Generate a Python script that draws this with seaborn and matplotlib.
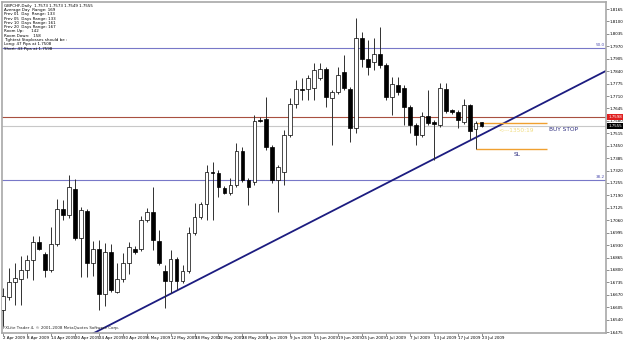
import matplotlib
matplotlib.use("Agg")
import matplotlib.pyplot as plt
import matplotlib.transforms as mtransforms
import numpy as np
import pandas as pd
import seaborn as sns

# GBPCHF daily candles, 2 Apr 2009 - 23 Jul 2009
opens = [1.6590, 1.6658, 1.6736, 1.6752, 1.6799, 1.6852, 1.6946, 1.6883, 1.6799, 1.6935,
         1.7118, 1.7087, 1.7223, 1.6967, 1.7108, 1.6836, 1.6909, 1.6674, 1.6893, 1.6684,
         1.6752, 1.6836, 1.6909, 1.6909, 1.7061, 1.7103, 1.6951, 1.6794, 1.6742, 1.6857,
         1.6742, 1.6794, 1.6993, 1.7076, 1.7145, 1.7312, 1.7307, 1.7228, 1.7202, 1.7244,
         1.7422, 1.7270, 1.7260, 1.7584, 1.7589, 1.7443, 1.7270, 1.7312, 1.7506, 1.7668,
         1.7746, 1.7746, 1.7752, 1.7804, 1.7851, 1.7699, 1.7731, 1.7835, 1.7746, 1.7542,
         1.8013, 1.7903, 1.7888, 1.7930, 1.7872, 1.7705, 1.7767, 1.7752, 1.7652, 1.7558,
         1.7506, 1.7605, 1.7574, 1.7558, 1.7746, 1.7636, 1.7626, 1.7574, 1.7663, 1.7537,
         1.7573]
highs = [1.6705, 1.6810, 1.6836, 1.6872, 1.6878, 1.6977, 1.6977, 1.6893, 1.7024, 1.7171,
         1.7166, 1.7296, 1.7275, 1.7129, 1.7118, 1.6951, 1.6956, 1.6940, 1.6935, 1.6836,
         1.6888, 1.6946, 1.6925, 1.7082, 1.7124, 1.7234, 1.7009, 1.6825, 1.6904, 1.6867,
         1.6825, 1.7024, 1.7150, 1.7155, 1.7349, 1.7364, 1.7323, 1.7239, 1.7281, 1.7464,
         1.7443, 1.7281, 1.7610, 1.7600, 1.7705, 1.7453, 1.7349, 1.7532, 1.7699, 1.7794,
         1.7804, 1.7820, 1.7882, 1.7882, 1.7862, 1.7741, 1.7862, 1.7924, 1.7757, 1.8118,
         1.8045, 1.8003, 1.8013, 1.8071, 1.7882, 1.7809, 1.7809, 1.7767, 1.7663, 1.7568,
         1.7626, 1.7741, 1.7584, 1.7778, 1.7778, 1.7642, 1.7636, 1.7694, 1.7668, 1.7579,
         1.7573]
lows = [1.6506, 1.6642, 1.6616, 1.6616, 1.6757, 1.6747, 1.6904, 1.6763, 1.6789, 1.6925,
        1.7061, 1.7071, 1.6956, 1.6763, 1.6763, 1.6768, 1.6590, 1.6611, 1.6684, 1.6679,
        1.6736, 1.6778, 1.6883, 1.6899, 1.7050, 1.6904, 1.6825, 1.6600, 1.6679, 1.6695,
        1.6731, 1.6784, 1.6982, 1.7066, 1.7061, 1.7061, 1.7181, 1.7197, 1.7192, 1.7234,
        1.7260, 1.7139, 1.7244, 1.7574, 1.7427, 1.7254, 1.7103, 1.7244, 1.7495, 1.7647,
        1.7689, 1.7689, 1.7689, 1.7794, 1.7652, 1.7453, 1.7720, 1.7741, 1.7469, 1.7516,
        1.7862, 1.7820, 1.7846, 1.7856, 1.7689, 1.7610, 1.7715, 1.7558, 1.7516, 1.7453,
        1.7495, 1.7558, 1.7375, 1.7548, 1.7621, 1.7616, 1.7542, 1.7563, 1.7480, 1.7432,
        1.7549]
closes = [1.6663, 1.6736, 1.6757, 1.6799, 1.6852, 1.6946, 1.6909, 1.6799, 1.6935, 1.7118,
          1.7087, 1.7234, 1.6967, 1.7113, 1.6836, 1.6909, 1.6674, 1.6893, 1.6695, 1.6752,
          1.6836, 1.6920, 1.6893, 1.7061, 1.7103, 1.6956, 1.6836, 1.6742, 1.6857, 1.6742,
          1.6794, 1.6993, 1.7076, 1.7145, 1.7312, 1.7307, 1.7234, 1.7202, 1.7244, 1.7422,
          1.7270, 1.7234, 1.7579, 1.7580, 1.7443, 1.7270, 1.7338, 1.7506, 1.7668, 1.7746,
          1.7741, 1.7804, 1.7846, 1.7851, 1.7705, 1.7731, 1.7820, 1.7752, 1.7542, 1.8013,
          1.7903, 1.7862, 1.7930, 1.7872, 1.7705, 1.7773, 1.7731, 1.7652, 1.7558, 1.7506,
          1.7605, 1.7568, 1.7563, 1.7752, 1.7631, 1.7626, 1.7584, 1.7663, 1.7527, 1.7568,
          1.7555]

date_labels = ["2 Apr 2009", "8 Apr 2009", "14 Apr 2009", "20 Apr 2009", "24 Apr 2009",
               "30 Apr 2009", "6 May 2009", "12 May 2009", "18 May 2009", "22 May 2009",
               "28 May 2009", "3 Jun 2009", "9 Jun 2009", "15 Jun 2009", "19 Jun 2009",
               "25 Jun 2009", "1 Jul 2009", "7 Jul 2009", "13 Jul 2009", "17 Jul 2009",
               "23 Jul 2009"]
price_ticks = [1.6475, 1.6540, 1.6605, 1.6670, 1.6735, 1.6800, 1.6865, 1.6930, 1.6995,
               1.7060, 1.7125, 1.7190, 1.7255, 1.7320, 1.7385, 1.7450, 1.7515, 1.7580,
               1.7645, 1.7710, 1.7775, 1.7840, 1.7905, 1.7970, 1.8035, 1.8100, 1.8165]

# levels drawn on the chart
fib_levels = [1.7961, 1.7270]
fib_names = ["50.0", "38.2"]
red_level = 1.7598
bid_level = 1.7555
order_levels = [1.7567, 1.7432]
order_span = [79, 91]
trend_bars = [13.5, 101.7]
trend_prices = [1.6443, 1.7856]

info_lines = ["GBPCHF,Daily  1.7573 1.7573 1.7549 1.7555",
              "Average Day  Range: 169",
              "Prev 01  Day  Range: 133",
              "Prev 05  Days Range: 133",
              "Prev 10  Days Range: 161",
              "Prev 20  Days Range: 167",
              "Room Up:      142",
              "Room Down:   158",
              "Tightest Stoplosses should be :",
              "Long: 47 Pips at 1.7508",
              "Short: 43 Pips at 1.7598"]

df = pd.DataFrame({"open": opens, "high": highs, "low": lows, "close": closes})
df["bar"] = np.arange(len(df))
df["up"] = df["close"] >= df["open"]

sns.set_theme(style="white")
plt.rcParams["font.family"] = ["Liberation Sans Narrow", "DejaVu Sans"]

fig = plt.figure(figsize=(6.25, 3.4), dpi=100)
ax = fig.add_axes([2 / 625, 7 / 340, 604 / 625, 331 / 340])

# horizontal levels
for lvl, name in zip(fib_levels, fib_names):
    ax.axhline(lvl, color="#7878c8", lw=0.8, zorder=1)
    ax.text(100.6, lvl + 0.0006, name, color="#5050b0", fontsize=3.0, ha="right", va="bottom")
ax.axhline(red_level, color="#a85040", lw=0.8, zorder=1)
ax.axhline(bid_level, color="#c8c8c8", lw=0.8, zorder=1)

# trend line
sns.lineplot(x=trend_bars, y=trend_prices, color="#1c1c80", lw=1.3, ax=ax, zorder=2)

# candles
ax.vlines(df["bar"], df["low"], df["high"], color="#303030", lw=0.7, zorder=3)
body_low = np.minimum(df["open"], df["close"])
body_h = np.maximum(np.abs(df["close"] - df["open"]), 0.00025)
ax.bar(df["bar"], body_h, bottom=body_low, width=0.62,
       color=np.where(df["up"], "white", "black"), edgecolor="black", lw=0.5, zorder=4)

# order lines and annotations
for lvl in order_levels:
    ax.hlines(lvl, order_span[0], order_span[1], color="#f0a030", lw=1.0, zorder=2)
ax.text(82.8, 1.7532, "<---1350:19", color="#f0dc80", fontsize=4.2, va="center")
ax.text(91.3, 1.7537, "BUY STOP", color="#303080", fontsize=4.2, va="center")
ax.text(85.3, 1.7406, "SL", color="#303080", fontsize=4.2, va="center")

ax.text(0.004, 0.995, "\n".join(info_lines), transform=ax.transAxes, fontsize=2.9,
        va="top", ha="left", linespacing=1.1, color="black")
ax.text(0.002, 0.008, "FXLite Trader 4, \u00a9 2001-2008 MetaQuotes Software Corp.",
        transform=ax.transAxes, fontsize=2.9, va="bottom", ha="left")

ax.set_xlim(-0.2, 100.8)
ax.set_ylim(1.6470, 1.8202)

ax.yaxis.tick_right()
ax.set_yticks(price_ticks)
ax.set_yticklabels([f"{p:.4f}" for p in price_ticks])
ax.set_xticks(np.arange(0, len(df), 4))
ax.set_xticklabels(date_labels, ha="left")
ax.tick_params(axis="both", labelsize=2.9, length=2, width=0.5, color="#606060", pad=0.5,
               labelcolor="black")
ax.tick_params(axis="y", direction="out", right=True, left=False)
ax.tick_params(axis="x", direction="out", bottom=True)

# price boxes on the axis
trans = mtransforms.blended_transform_factory(ax.transAxes, ax.transData)
ax.text(1.004, red_level, "1.7598", transform=trans, fontsize=2.9, color="white", va="center",
        ha="left", bbox=dict(boxstyle="square,pad=0.25", fc="#e02020", ec="none"), zorder=6,
        clip_on=False)
ax.text(1.004, bid_level, "1.7555", transform=trans, fontsize=2.9, color="white", va="center",
        ha="left", bbox=dict(boxstyle="square,pad=0.25", fc="black", ec="none"), zorder=6,
        clip_on=False)

for s in ax.spines.values():
    s.set_color("#a8a8a8")
    s.set_linewidth(1.2)
ax.set_xlabel("")
ax.set_ylabel("")

fig.savefig("out.png", dpi=100)
